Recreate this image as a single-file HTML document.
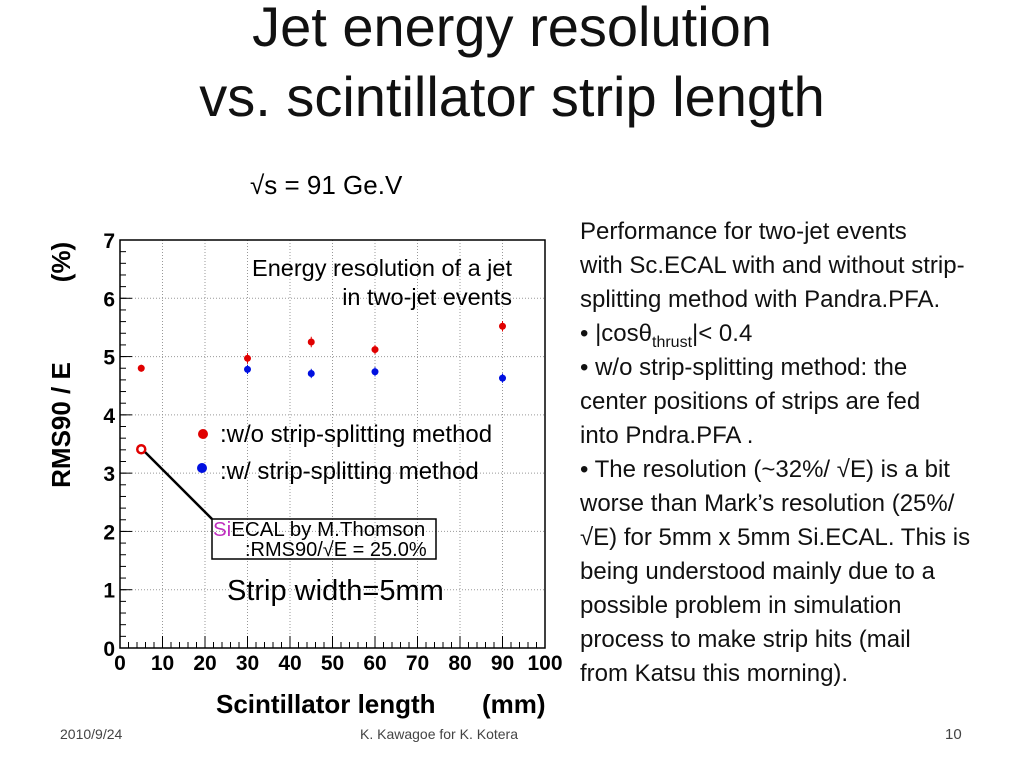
<!DOCTYPE html>
<html><head><meta charset="utf-8"><style>
body{margin:0;width:1024px;height:768px;background:#fff;overflow:hidden;position:relative;font-family:"Liberation Sans",sans-serif}
.t{position:absolute;white-space:nowrap}
sub{line-height:0;font-size:16px}
</style></head><body>
<div class="t" style="left:0;width:1024px;top:-8px;text-align:center;font-size:56px;line-height:70px;color:#111">Jet energy resolution<br>vs. scintillator strip length</div>
<div class="t" style="left:250px;top:170px;font-size:26px">√s = 91 Ge.V</div>
<div class="t" style="left:580px;top:215px;font-size:24px;line-height:34px;color:#111">Performance for two-jet events<br>with Sc.ECAL with and without strip-<br>splitting method with Pandra.PFA.<br>• |cosθ<sub>thrust</sub>|&lt; 0.4<br>• w/o strip-splitting method: the<br>center positions of strips are fed<br>into Pndra.PFA .<br>• The resolution (~32%/ √E) is a bit<br>worse than Mark’s resolution (25%/<br>√E) for 5mm x 5mm Si.ECAL. This is<br>being understood mainly due to a<br>possible problem in simulation<br>process to make strip hits (mail<br>from Katsu this morning).</div>
<div class="t" style="left:60px;top:726px;font-size:14px;color:#444">2010/9/24</div>
<div class="t" style="left:360px;top:726px;font-size:14px;color:#444">K. Kawagoe for K. Kotera</div>
<div class="t" style="left:945px;top:726px;font-size:15px;color:#444">10</div>
<svg id="c" width="1024" height="768" style="position:absolute;left:0;top:0"></svg>
<script>
const xTicks=[0,10,20,30,40,50,60,70,80,90,100];
const yTicks=[0,1,2,3,4,5,6,7];
const xRed=[5,30,45,60,90];
const yRed=[4.80,4.97,5.25,5.12,5.52];
const eRed=[0.06,0.09,0.09,0.08,0.09];
const xBlue=[30,45,60,90];
const yBlue=[4.78,4.71,4.74,4.63];
const eBlue=[0.08,0.08,0.08,0.08];
const siX=[5];const siY=[3.41];
const L=120,R=545,T=240,B=648;
const X=v=>L+(v/100)*(R-L);
const Y=v=>B-(v/7)*(B-T);
const s=document.getElementById('c');const NS='http://www.w3.org/2000/svg';
function mk(t,a,p){const e=document.createElementNS(NS,t);for(const k in a)e.setAttribute(k,a[k]);(p||s).appendChild(e);return e;}
let e;
xTicks.forEach(v=>{if(v>0&&v<100){e=mk('line',{x1:X(v),x2:X(v),y1:T,y2:B,stroke:'#999','stroke-dasharray':'1,2'});}
e=mk('text',{x:X(v),y:B+22,'text-anchor':'middle','font-size':21,'font-weight':'bold'});e.textContent=v;
e=mk('line',{x1:X(v),x2:X(v),y1:B,y2:B-12,stroke:'#000'});});
for(let v=0;v<100;v+=2){if(v%10){e=mk('line',{x1:X(v),x2:X(v),y1:B,y2:B-6,stroke:'#000'});}}
yTicks.forEach(v=>{if(v>0&&v<7){e=mk('line',{x1:L,x2:R,y1:Y(v),y2:Y(v),stroke:'#999','stroke-dasharray':'1,2'});}
e=mk('text',{x:L-5,y:Y(v)+8,'text-anchor':'end','font-size':21,'font-weight':'bold'});e.textContent=v;
e=mk('line',{x1:L,x2:L+12,y1:Y(v),y2:Y(v),stroke:'#000'});});
for(let v=0;v<7;v+=0.2){e=mk('line',{x1:L,x2:L+6,y1:Y(v),y2:Y(v),stroke:'#000'});}
e=mk('rect',{x:L,y:T,width:R-L,height:B-T,fill:'none',stroke:'#000','stroke-width':1.5});
function pts(xs,ys,es,col,nm){xs.forEach((x,i)=>{e=mk('line',{x1:X(x),x2:X(x),y1:Y(ys[i]+es[i]),y2:Y(ys[i]-es[i]),stroke:col});
e=mk('circle',{cx:X(x),cy:Y(ys[i]),r:3.5,fill:col});});}
pts(xRed,yRed,eRed,'#e00000','red-series');
pts(xBlue,yBlue,eBlue,'#0010e0','blue-series');
e=mk('circle',{cx:X(siX[0]),cy:Y(siY[0]),r:4,fill:'#fff',stroke:'#e00000','stroke-width':2.5});
e=mk('line',{x1:212,y1:519,x2:X(siX[0])+4,y2:Y(siY[0])+3,stroke:'#000','stroke-width':2.5});
e=mk('rect',{x:212,y:519,width:224,height:40,fill:'none',stroke:'#000','stroke-width':1.5});
e=mk('text',{x:213,y:536,'font-size':20.5});e.innerHTML='<tspan fill="#c030c0">Si</tspan>ECAL by M.Thomson';
e=mk('text',{x:245,y:556,'font-size':20});e.textContent=':RMS90/√E = 25.0%';
e=mk('text',{x:512,y:276,'text-anchor':'end','font-size':23.5});e.textContent='Energy resolution of a jet';
e=mk('text',{x:512,y:305,'text-anchor':'end','font-size':23.5});e.textContent='in two-jet events';
e=mk('circle',{cx:203,cy:434,r:5,fill:'#e00000'});
e=mk('text',{x:220,y:442,'font-size':24});e.textContent=':w/o strip-splitting method';
e=mk('circle',{cx:202,cy:468,r:5,fill:'#0010e0'});
e=mk('text',{x:220,y:479,'font-size':24});e.textContent=':w/ strip-splitting  method';
e=mk('text',{x:227,y:600,'font-size':29});e.textContent='Strip width=5mm';
e=mk('text',{x:216,y:713,'font-size':26,'font-weight':'bold'});e.textContent='Scintillator length';
e=mk('text',{x:482,y:713,'font-size':26,'font-weight':'bold'});e.textContent='(mm)';
e=mk('text',{x:0,y:0,'font-size':26,'font-weight':'bold','text-anchor':'middle',transform:'translate(70,425) rotate(-90)'});e.textContent='RMS90 / E';
e=mk('text',{x:0,y:0,'font-size':26,'font-weight':'bold','text-anchor':'middle',transform:'translate(70,262) rotate(-90)'});e.textContent='(%)';
</script>
</body></html>
